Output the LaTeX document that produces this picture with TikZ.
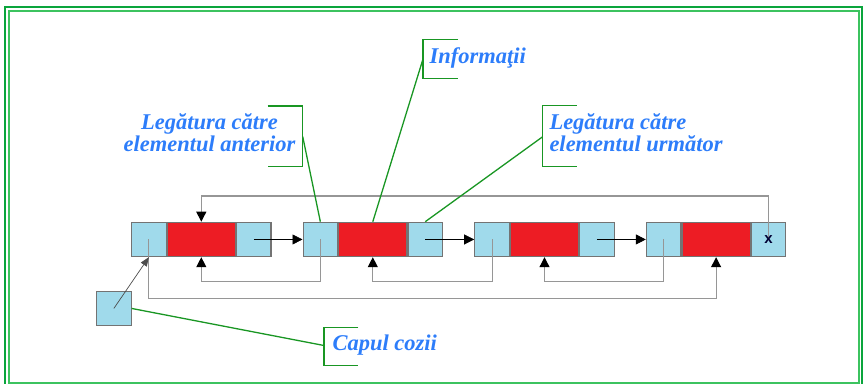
\documentclass[tikz,border=0pt]{standalone}
\usepackage{fontspec}
\setmainfont{Liberation Serif}
\newfontfamily\markfont{Liberation Sans}
\usetikzlibrary{arrows.meta}
\definecolor{cellblue}{RGB}{160,218,235}
\definecolor{cellred}{RGB}{237,28,36}
\definecolor{cellline}{RGB}{115,115,115}
\definecolor{linkgray}{RGB}{150,150,150}
\definecolor{calloutgreen}{RGB}{25,150,35}
\definecolor{labelblue}{RGB}{45,125,250}
\definecolor{frameouter}{RGB}{10,165,60}
\definecolor{frameinner}{RGB}{60,195,95}
\begin{document}
\begin{tikzpicture}[x=1pt,y=-1pt,
  cell/.style={draw=cellline,line width=1.2pt,inner sep=0pt,minimum height=34.3pt},
  ptrcell/.style={cell,fill=cellblue,minimum width=34.5pt},
  infocell/.style={cell,fill=cellred,minimum width=68pt},
  tip/.style={-{Triangle[length=10pt,width=10pt,color=black]}},
  nextlink/.style={tip,draw=black,line width=0.6pt},
  backlink/.style={tip,draw=linkgray,line width=1.1pt},
  callout/.style={draw=calloutgreen,line width=1.3pt},
  endmark/.style={font=\markfont\fontsize{15}{15}\selectfont\bfseries,text=black!80!blue,inner sep=0pt},
  label/.style={text=labelblue,font=\fontsize{22.5}{22.4}\selectfont\bfseries\itshape,inner sep=0pt}
]
\useasboundingbox (0,0) rectangle (864,383);

% double frame
\draw[frameouter,line width=2pt] (4.8,6.5) rectangle (862,400);
\draw[frameinner,line width=2pt] (9.2,11) rectangle (858.8,382.5);

% list elements: previous link | information | next link
\foreach \i/\x in {1/131,2/302.5,3/474.2,4/645.8}{
  \node[ptrcell,anchor=north west] (L\i) at (\x,221.7) {};
  \node[infocell,anchor=west] (D\i) at (L\i.east) {};
  \node[ptrcell,anchor=west] (R\i) at (D\i.east) {};
}
\coordinate (nil) at (R4.center);

% queue head
\node[ptrcell,anchor=north west] (H) at (96,290.7) {};

% next links
\draw[nextlink] (R1.center) -- (L2.west);
\draw[nextlink] (R2.center) -- (L3.west);
\draw[nextlink] (R3.center) -- (L4.west);

% previous links
\draw[backlink] (L2.center) -- ++(0,42) -| (D1.south);
\draw[backlink] (L3.center) -- ++(0,42) -| (D2.south);
\draw[backlink] (L4.center) -- ++(0,42) -| (D3.south);

% circular links
\draw[backlink] (L1.center) -- ++(0,59) -| (D4.south);
\draw[backlink] (nil) -- ++(0,-43.5) -| (D1.north);

% end marker of the last element, above its link line
\node[endmark] (nilmark) at (nil) {x};

% head pointer
\draw[-{Triangle[length=9pt,width=7pt]},draw=black!70,line width=0.7pt] (H.center) -- (L1.south);

% labels
\node[label,anchor=base west] (tInfo) at (429.5,63.3) {Informaţii};
\node[label,anchor=base,align=center] (tPrev) at (209.5,151.7) {Legătura către\\elementul anterior};
\node[label,anchor=base west,align=left] (tNext) at (549.3,151.7) {Legătura către\\elementul următor};
\node[label,anchor=base west] (tHead) at (332.3,350) {Capul cozii};

% brackets
\coordinate (bInfo) at (423,59);
\coordinate (bPrev) at (302.7,136.5);
\coordinate (bNext) at (542.3,137);
\coordinate (bHead) at (324,345.5);
\draw[callout] (458,39.3) -| (bInfo) |- (458,78.3);
\draw[callout] (267.7,106) -| (bPrev) |- (267.7,166.7);
\draw[callout] (576.7,105.7) -| (bNext) |- (576.7,166.7);
\draw[callout] (358.3,327.3) -| (bHead) |- (358.3,365.3);

% callout lines
\draw[callout] (bInfo) -- (D2.north);
\draw[callout] (bPrev) -- (L2.north);
\draw[callout] (bNext) -- (R2.north);
\draw[callout] (bHead) -- (H.east);
\end{tikzpicture}
\end{document}
